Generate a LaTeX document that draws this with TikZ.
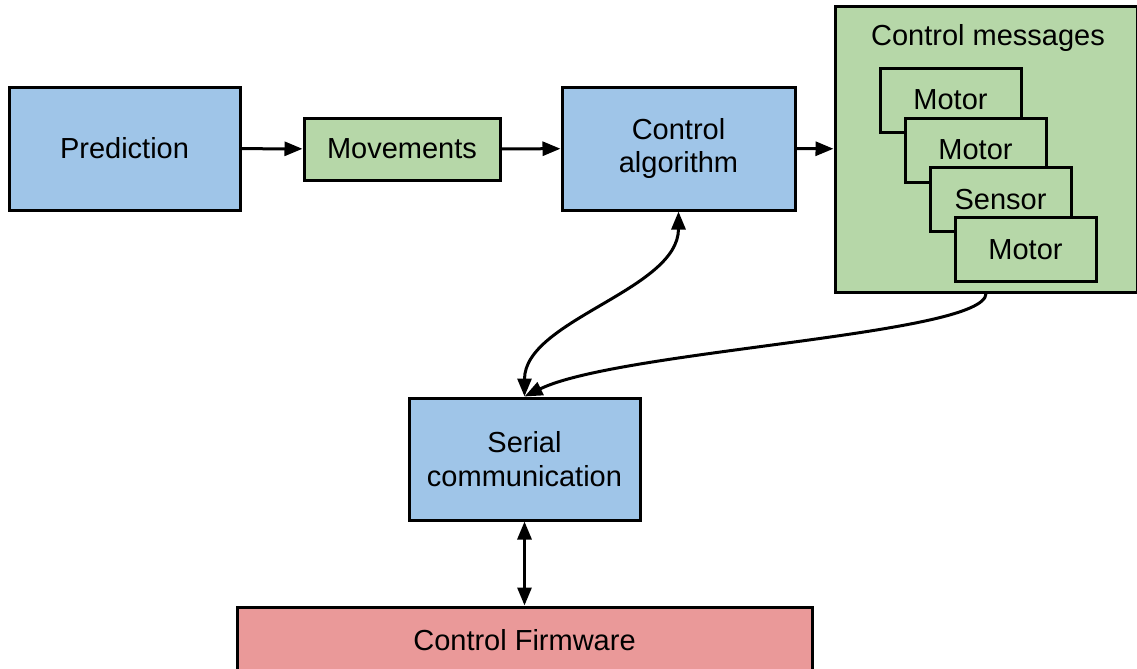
\documentclass[tikz,border=0pt]{standalone}
\usepackage{fontspec}
\setmainfont{Liberation Sans}
\usepackage{tikz}
\usetikzlibrary{arrows.meta}

\definecolor{blockblue}{HTML}{9FC5E8}
\definecolor{blockgreen}{HTML}{B6D7A8}
\definecolor{blockred}{HTML}{EA9999}

\begin{document}
\begin{tikzpicture}[x=0.5pt, y=-0.5pt,
        box/.style = {draw=black, line width=1.5pt, align=center, inner sep=0pt,
                      font=\fontsize{14.5}{17}\selectfont},
        conn/.style = {line width=1.5pt, -{Triangle[length=9pt, width=7pt]}},
        both/.style = {line width=1.5pt, {Triangle[length=9pt, width=7pt]}-{Triangle[length=9pt, width=7pt]}}]
        \clip (0,0) rectangle (1137,669);
        \node[box, fill=blockblue, minimum width=115.5pt, minimum height=61.5pt] (prediction) at (124.5, 148.5) {Prediction};
        \node[box, fill=blockgreen, minimum width=98pt, minimum height=31pt] (movements) at (402, 149) {Movements};
        \node[box, fill=blockblue, minimum width=116.5pt, minimum height=61.5pt] (algorithm) at (678.5, 148.5) {Control\\algorithm};
        \node[box, fill=blockgreen, minimum width=151pt, minimum height=143pt] (messages) at (986, 149) {};
        \node[font=\fontsize{14.5}{17}\selectfont] (msgtitle) at (988, 38) {Control messages};
        \node[box, fill=blockgreen, minimum width=70.5pt, minimum height=32pt] (motora) at (950.5, 100) {Motor};
        \node[box, fill=blockgreen, minimum width=70.5pt, minimum height=32pt] (motorb) at (975.5, 150) {Motor};
        \node[box, fill=blockgreen, minimum width=70.5pt, minimum height=32pt] (sensor) at (1000.5, 199.5) {Sensor};
        \node[box, fill=blockgreen, minimum width=70.5pt, minimum height=32pt] (motorc) at (1025.5, 249.5) {Motor};
        \node[box, fill=blockblue, minimum width=115.5pt, minimum height=61pt] (serial) at (524.5, 459) {Serial\\communication};
        \node[box, fill=blockred, minimum width=287.5pt, minimum height=33pt] (firmware) at (524.5, 640) {Control Firmware};

        \draw[conn] (prediction) -- (movements);
        \draw[conn] (movements) -- (algorithm);
        \draw[conn] (algorithm) -- (messages);
        \draw[both] (serial.north) .. controls (524.5, 320) and (678.5, 290) .. (algorithm.south);
        \draw[conn] (messages.south) .. controls (986, 335) and (620, 350) .. (serial.north);
        \draw[both] (serial) -- (firmware);
    \end{tikzpicture}
\end{document}
